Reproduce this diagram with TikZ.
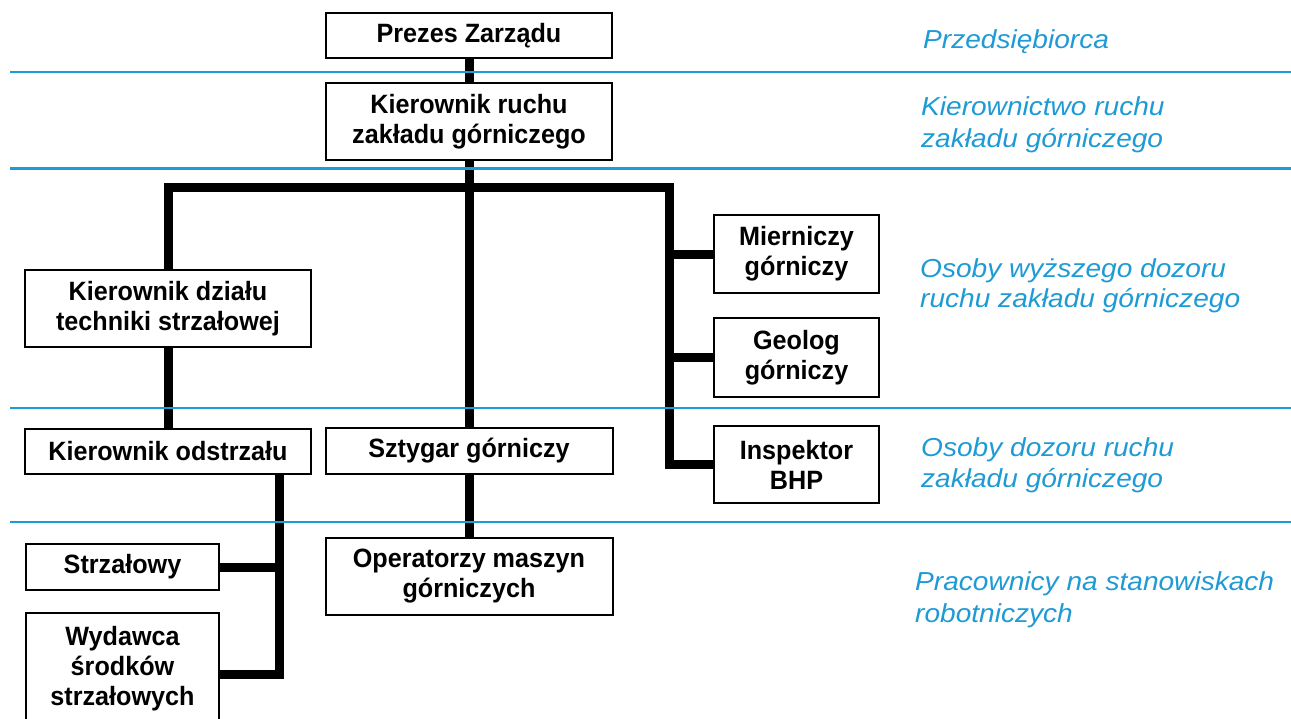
\documentclass[tikz,border=0pt]{standalone}
\usepackage{fontspec}
\setmainfont{Liberation Sans}
\newfontfamily\boxfont[FakeStretch=0.95]{Liberation Sans}
\newfontfamily\labfont[FakeStretch=1.08]{Liberation Sans}
\definecolor{lblue}{RGB}{30,154,212}
\begin{document}
\begin{tikzpicture}[x=1pt,y=-1pt,
  box/.style={draw, line width=2pt, align=center, inner sep=0pt, font=\boxfont\bfseries\fontsize{26.5}{30}\selectfont},
  conn/.style={line width=9pt, line join=miter, line cap=butt},
  band/.style={draw=lblue, line width=2.5pt},
  lab/.style={anchor=base west, inner sep=0pt, text=lblue, font=\labfont\itshape\fontsize{26}{32}\selectfont}]
\useasboundingbox (0,0) rectangle (1291,718);

% boxes
\node[box, minimum width=286pt, minimum height=45pt] (prezes) at (469,35.5) {Prezes Zarządu};
\node[box, minimum width=286pt, minimum height=77pt] (kruchu) at (469,121.5) {Kierownik ruchu\\zakładu górniczego};
\node[box, minimum width=286pt, minimum height=77pt] (kdzialu) at (168,308.5) {Kierownik działu\\techniki strzałowej};
\node[box, minimum width=286pt, minimum height=45pt] (kodstrz) at (168,451.5) {Kierownik odstrzału};
\node[box, minimum width=287pt, minimum height=46pt] (sztygar) at (469,451) {Sztygar górniczy};
\node[box, minimum width=287pt, minimum height=77pt] (operat) at (469,576.5) {Operatorzy maszyn\\górniczych};
\node[box, minimum width=165pt, minimum height=78pt] (mierniczy) at (796.5,254) {Mierniczy\\górniczy};
\node[box, minimum width=165pt, minimum height=79pt] (geolog) at (796.5,357.5) {Geolog\\górniczy};
\node[box, minimum width=165pt, minimum height=77pt] (inspektor) at (796.5,464.5) {Inspektor\\BHP};
\node[box, minimum width=193pt, minimum height=46pt] (strzalowy) at (122.5,567) {Strzałowy};
\node[box, minimum width=193pt, minimum height=112pt] (wydawca) at (122.5,669) {Wydawca\\środków\\strzałowych};

% connectors
\coordinate (barR) at (669,187.5);
\coordinate (kvx) at (279,0);
\coordinate (kvb) at (279,674);
\draw[conn] (prezes.south) -- (kruchu.north);
\draw[conn] (kruchu.south) -- (sztygar.north);
\draw[conn] (sztygar.south) -- (operat.north);
\draw[conn] (kdzialu.north) |- (barR) |- (inspektor.west);
\draw[conn] (barR |- mierniczy.west) -- (mierniczy.west);
\draw[conn] (barR |- geolog.west) -- (geolog.west);
\draw[conn] (kdzialu.south) -- (kodstrz.north);
\draw[conn] (kodstrz.south -| kvx) |- (wydawca.east |- kvb);
\draw[conn] (kvx |- strzalowy.east) -- (strzalowy.east);

% bands
\draw[band] (10,72) -- (1291,72);
\draw[band] (10,168.5) -- (1291,168.5);
\draw[band] (10,408) -- (1291,408);
\draw[band] (10,522) -- (1291,522);

% labels
\node[lab] (l1) at (923,48) {Przedsiębiorca};
\node[lab] (l2a) at (921,115) {Kierownictwo ruchu};
\node[lab] (l2b) at (921,147) {zakładu górniczego};
\node[lab] (l3a) at (920,277) {Osoby wyższego dozoru};
\node[lab] (l3b) at (920,307) {ruchu zakładu górniczego};
\node[lab] (l4a) at (921,456) {Osoby dozoru ruchu};
\node[lab] (l4b) at (921,487) {zakładu górniczego};
\node[lab] (l5a) at (915,590) {Pracownicy na stanowiskach};
\node[lab] (l5b) at (915,622) {robotniczych};
\end{tikzpicture}
\end{document}
